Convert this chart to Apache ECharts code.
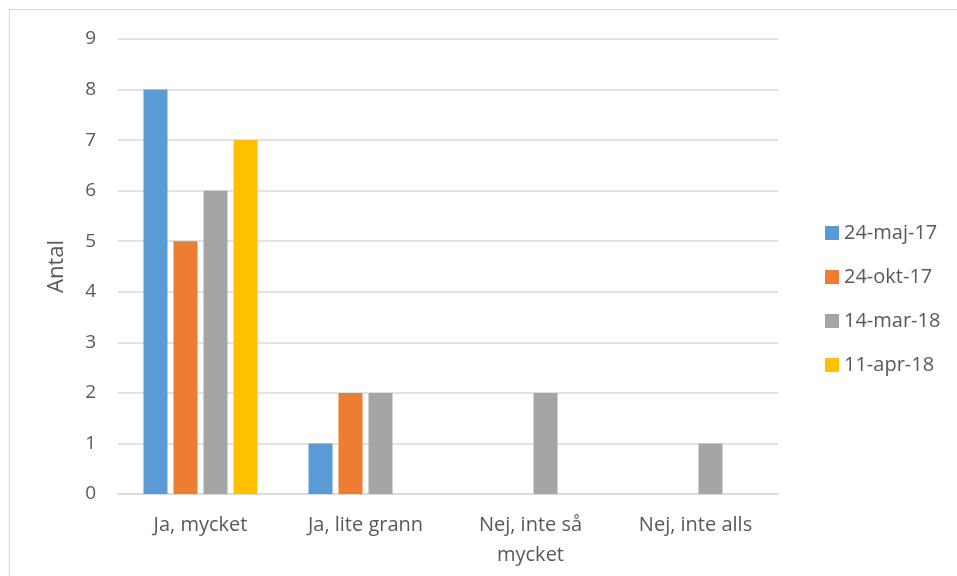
<!DOCTYPE html>
<html>
<head>
<meta charset="utf-8">
<script src="https://cdn.jsdelivr.net/npm/echarts@6/dist/echarts.min.js"></script>
<style>
  html, body { margin: 0; padding: 0; background: #fff; }
  #frame { position: absolute; left: 9px; top: 9px; width: 960px; height: 580px; border: 1px solid #d9d9d9; }
  #chart { position: absolute; left: 0; top: 0; width: 957px; height: 576px; }
</style>
</head>
<body>
<div id="frame"></div>
<div id="chart"></div>
<script>
  // data
  const categories = ['Ja, mycket', 'Ja, lite grann', 'Nej, inte så\nmycket', 'Nej, inte alls'];
  const seriesNames = ['24-maj-17', '24-okt-17', '14-mar-18', '11-apr-18'];
  const maj17 = [8, 1, null, null];
  const okt17 = [5, 2, null, null];
  const mar18 = [6, 2, 2, 1];
  const apr18 = [7, null, null, null];
  const colors = ['#5b9bd5', '#ed7d31', '#a5a5a5', '#ffc000'];

  const font = '"Open Sans", sans-serif';
  const mychart = echarts.init(document.getElementById('chart'));

  const values = [maj17, okt17, mar18, apr18];
  const option = {
    animation: false,
    color: colors,
    textStyle: { fontFamily: font },
    grid: { left: 118, right: 179, top: 39, bottom: 82 },
    legend: {
      orient: 'vertical',
      left: 820,
      top: 218,
      itemWidth: 14,
      itemHeight: 14,
      itemGap: 24,
      icon: 'rect',
      textStyle: { fontSize: 20, color: '#595959', fontFamily: font },
      data: seriesNames
    },
    xAxis: {
      type: 'category',
      data: categories,
      axisTick: { show: false },
      axisLine: { lineStyle: { color: '#d9d9d9', width: 1.5 } },
      axisLabel: { fontSize: 20, color: '#595959', margin: 16, lineHeight: 30, fontFamily: font }
    },
    yAxis: {
      type: 'value',
      min: 0,
      max: 9,
      interval: 1,
      name: 'Antal',
      nameLocation: 'middle',
      nameGap: 50,
      nameTextStyle: { fontSize: 22, color: '#595959', fontFamily: font },
      axisLabel: { fontSize: 19, color: '#595959', margin: 22, fontFamily: font },
      splitLine: { lineStyle: { color: '#d9d9d9', width: 1.5 } }
    },
    series: seriesNames.map((name, i) => ({
      name: name,
      type: 'bar',
      data: values[i],
      barWidth: 24,
      barGap: '25%'
    }))
  };
  mychart.setOption(option);
</script>
</body>
</html>
